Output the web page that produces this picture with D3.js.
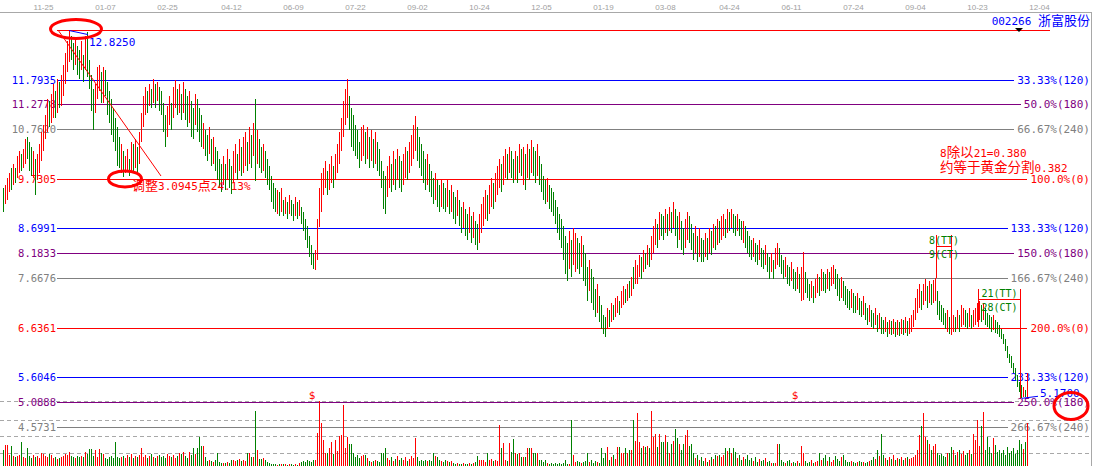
<!DOCTYPE html>
<html><head><meta charset="utf-8">
<script src="https://cdn.jsdelivr.net/npm/d3@7"></script>
<style>html,body{margin:0;padding:0;background:#fff;overflow:hidden}svg{display:block}</style>
</head><body>
<svg id="c" width="1094" height="466"></svg>
<script>
const dateLabels = ["11-25","01-07","02-25","04-12","06-09","07-22","09-02","10-24","12-05","01-19","03-08","04-24","06-11","07-24","09-04","10-23","12-04"];
const dateBars = [20,51,82,114,145,176,207,238,269,300,331,363,394,425,456,487,518];

const high = [
9.55,9.60,9.75,9.85,9.95,10.05,9.95,10.20,10.30,10.25,
10.35,10.55,10.60,10.50,10.40,10.30,10.15,10.25,10.45,10.70,
10.85,11.05,11.40,11.35,11.50,11.70,11.55,11.80,11.75,11.90,
12.10,12.35,12.60,12.83,12.70,12.55,12.65,12.50,12.40,12.60,
12.30,12.70,12.78,12.20,11.90,11.60,11.70,12.05,12.10,11.95,
12.05,12.00,11.75,11.55,11.40,11.20,11.00,10.80,10.60,10.45,
10.30,10.20,10.35,10.15,10.50,10.45,10.55,10.40,10.70,11.10,
11.45,11.65,11.55,11.70,11.60,11.80,11.70,11.75,11.65,11.55,
11.30,11.05,11.25,11.45,11.30,11.65,11.78,11.60,11.70,11.50,
11.75,11.60,11.45,11.55,11.35,11.20,11.50,11.40,11.20,11.05,
10.90,10.75,10.65,10.80,10.55,10.60,10.40,10.30,10.15,10.05,
10.20,10.05,10.35,10.15,10.00,10.30,10.45,10.25,10.55,10.40,
10.60,10.70,10.50,10.80,10.65,10.90,11.39,10.75,10.55,10.40,
10.45,10.30,10.15,10.00,9.80,9.65,9.55,9.50,9.45,9.55,
9.30,9.35,9.25,9.40,9.30,9.20,9.35,9.25,9.30,9.15,
9.05,8.90,8.75,8.55,8.35,8.20,8.25,8.90,9.55,9.85,
9.95,10.10,9.90,10.05,10.20,10.00,10.25,10.45,10.70,11.00,
11.35,11.60,11.80,11.45,11.20,11.05,10.85,10.75,10.50,10.80,
10.85,10.70,10.80,10.60,10.75,10.55,10.70,10.50,10.35,10.10,
9.90,9.80,10.00,10.20,10.05,10.30,10.15,10.35,10.20,10.10,
10.25,10.40,10.30,10.50,10.65,10.85,11.03,10.80,10.60,10.45,
10.30,10.15,10.25,10.05,9.90,9.75,9.85,9.70,9.60,9.70,
9.65,9.55,9.70,9.50,9.60,9.45,9.35,9.50,9.30,9.15,
9.25,9.10,9.00,9.15,8.95,9.05,8.85,8.80,9.00,9.20,
9.35,9.50,9.40,9.60,9.75,9.65,9.85,10.00,10.15,10.05,
10.20,10.35,10.25,10.40,10.30,10.15,10.30,10.20,10.45,10.35,
10.40,10.25,10.45,10.35,10.53,10.40,10.30,10.45,10.20,10.05,
9.80,9.70,9.75,9.60,9.55,9.45,9.30,9.15,9.00,8.90,
8.75,8.55,8.40,8.65,8.45,8.70,8.60,8.50,8.40,8.55,
8.35,8.20,7.90,8.05,7.85,7.70,7.45,7.55,7.30,7.10,
6.90,6.85,7.05,7.00,7.15,7.10,7.25,7.30,7.20,7.40,
7.50,7.45,7.55,7.60,7.70,7.90,8.05,7.95,8.15,8.10,
8.25,8.20,8.35,8.30,8.55,8.75,8.90,8.80,9.05,9.00,
8.95,9.10,9.00,9.15,9.05,9.24,9.10,8.95,9.05,8.85,
8.70,8.90,9.05,8.95,8.80,8.60,8.75,8.55,8.70,8.50,
8.45,8.60,8.50,8.70,8.65,8.80,8.75,8.90,8.85,8.95,
9.00,8.90,9.10,9.05,9.10,9.00,8.95,9.00,8.90,8.85,
8.85,8.75,8.65,8.55,8.45,8.50,8.40,8.35,8.45,8.30,
8.25,8.35,8.20,8.10,8.20,8.05,8.30,8.40,8.30,8.15,
8.05,8.10,7.95,7.90,8.00,7.85,7.80,7.90,7.75,7.90,
8.22,7.80,7.65,7.55,7.60,7.50,7.65,7.75,7.70,7.85,
7.80,7.75,7.85,7.80,7.90,7.95,7.85,7.75,7.65,7.70,
7.60,7.50,7.45,7.40,7.45,7.35,7.30,7.35,7.25,7.20,
7.30,7.15,7.05,7.10,7.00,6.95,7.05,6.90,6.95,6.85,
6.80,6.85,6.75,6.80,6.78,6.82,6.75,6.80,6.76,6.82,
6.80,6.85,6.78,6.84,6.90,7.00,7.25,7.45,7.55,7.40,
7.55,7.65,7.50,7.60,7.55,7.62,7.68,7.40,7.20,7.10,
7.05,6.95,7.00,6.85,6.80,6.90,6.85,7.00,6.90,7.10,
7.05,7.00,6.95,7.05,6.90,7.00,7.05,7.15,7.20,7.10,
7.15,7.05,6.95,6.90,6.85,6.90,6.80,6.75,6.70,6.60,
6.50,6.40,6.25,6.10,6.05,5.90,5.80,5.65,5.50,5.45,5.40,5.35,5.69];

const low = [
9.05,9.20,9.30,9.45,9.50,9.60,9.65,9.75,9.85,9.90,
9.95,10.05,10.15,9.90,9.80,9.75,9.40,9.70,9.85,10.10,
10.30,10.55,10.70,10.80,10.90,11.00,11.00,11.10,11.20,11.25,
11.45,11.70,11.95,12.15,12.20,12.00,12.10,11.90,11.80,12.00,
11.75,12.00,11.85,11.60,11.15,10.75,11.10,11.40,11.55,11.30,
11.30,11.45,11.05,10.90,10.65,10.50,10.30,10.00,9.95,9.85,
9.76,9.85,9.90,9.80,9.90,9.85,9.95,9.85,10.05,10.50,
10.80,11.05,11.10,11.25,11.20,11.30,11.20,11.35,11.15,11.05,
10.70,10.40,10.60,10.85,10.75,11.00,11.20,11.05,11.10,10.95,
11.10,10.95,10.80,10.90,10.60,10.55,10.85,10.70,10.50,10.40,
10.35,10.20,10.10,10.25,10.00,10.05,9.90,9.70,9.55,9.45,
9.60,9.50,9.70,9.55,9.41,9.65,9.85,9.70,9.90,9.80,
9.85,10.00,9.90,10.05,9.95,10.20,9.68,10.05,9.95,9.85,
9.90,9.75,9.60,9.50,9.25,9.10,9.05,9.00,8.95,9.05,
8.95,9.00,8.90,9.00,8.95,8.85,8.95,8.90,8.95,8.80,
8.65,8.45,8.30,8.10,7.95,7.86,7.84,8.05,8.72,9.05,
9.40,9.55,9.40,9.50,9.65,9.55,9.70,9.85,10.05,10.30,
10.60,10.85,11.00,10.75,10.40,10.30,10.20,10.15,9.95,10.10,
10.20,10.05,10.15,9.95,10.10,9.95,10.05,9.90,9.80,9.55,
9.10,9.00,9.35,9.55,9.45,9.60,9.50,9.70,9.55,9.45,
9.60,9.75,9.70,9.85,10.00,10.15,10.30,10.10,9.95,9.80,
9.65,9.50,9.60,9.45,9.35,9.20,9.30,9.15,9.05,9.15,
9.10,9.05,9.15,9.00,9.05,8.90,8.80,8.95,8.75,8.60,
8.70,8.55,8.45,8.60,8.40,8.50,8.35,8.26,8.40,8.60,
8.75,8.90,8.85,9.00,9.15,9.10,9.25,9.40,9.55,9.45,
9.60,9.75,9.70,9.85,9.75,9.65,9.70,9.65,9.85,9.80,
9.60,9.50,9.75,9.70,9.85,9.80,9.65,9.80,9.60,9.45,
9.30,9.20,9.25,9.10,9.05,8.95,8.80,8.60,8.45,8.30,
8.05,7.75,7.60,7.85,7.70,7.95,7.80,7.85,7.75,7.90,
7.60,7.50,7.20,7.40,7.15,7.00,6.85,6.95,6.75,6.60,
6.50,6.45,6.60,6.65,6.75,6.80,6.85,6.95,6.90,7.05,
7.10,7.15,7.20,7.25,7.30,7.45,7.55,7.55,7.70,7.65,
7.80,7.85,7.95,7.90,8.05,8.20,8.35,8.30,8.45,8.55,
8.45,8.60,8.55,8.65,8.60,8.70,8.55,8.30,8.45,8.25,
8.15,8.30,8.45,8.40,8.25,8.05,8.20,8.00,8.10,8.00,
8.00,8.10,8.05,8.20,8.15,8.30,8.25,8.35,8.40,8.45,
8.55,8.50,8.60,8.65,8.70,8.60,8.55,8.65,8.55,8.45,
8.40,8.30,8.20,8.10,8.05,8.10,8.00,7.95,8.05,7.90,
7.85,7.95,7.80,7.65,7.80,7.65,7.85,7.95,7.90,7.75,
7.65,7.70,7.55,7.50,7.60,7.45,7.40,7.45,7.35,7.20,
7.22,7.35,7.25,7.20,7.25,7.15,7.25,7.35,7.30,7.40,
7.40,7.35,7.45,7.40,7.50,7.55,7.45,7.30,7.20,7.25,
7.20,7.10,7.05,7.00,7.05,6.95,6.95,7.00,6.90,6.85,
6.90,6.80,6.70,6.75,6.65,6.60,6.70,6.55,6.60,6.50,
6.50,6.55,6.45,6.50,6.48,6.50,6.45,6.48,6.46,6.50,
6.48,6.52,6.47,6.50,6.55,6.65,6.80,6.95,7.05,7.00,
7.10,7.20,7.05,7.15,7.10,7.15,7.20,6.90,6.80,6.75,
6.70,6.60,6.55,6.50,6.48,6.55,6.55,6.60,6.55,6.65,
6.70,6.65,6.60,6.65,6.60,6.65,6.70,6.75,6.80,6.75,
6.80,6.70,6.65,6.60,6.55,6.58,6.52,6.50,6.45,6.40,
6.30,6.15,6.00,5.90,5.80,5.70,5.55,5.40,5.30,5.17,5.20,5.20,5.17];

const rise = [
0,1,1,1,0,1,0,1,1,0, 1,1,0,0,0,1,0,1,1,1, 1,1,1,0,1,1,0,1,0,1, 1,1,1,1,0,0,1,0,0,1,
0,1,0,0,0,0,1,1,1,0, 1,0,0,0,0,0,0,0,0,1, 0,1,1,0,1,0,1,0,1,1, 1,1,0,1,0,1,0,1,0,0,
0,0,1,1,0,1,1,0,1,0, 1,0,0,1,0,0,1,0,0,0, 1,0,0,1,0,1,0,0,0,0, 1,0,1,0,0,1,1,0,1,0,
1,1,0,1,0,1,0,1,0,0, 1,0,0,0,0,0,0,1,0,1, 0,1,0,1,0,0,1,0,1,0, 0,0,0,0,0,0,1,1,1,1,
1,1,0,1,1,0,1,1,1,1, 1,1,1,0,0,0,0,0,0,1, 1,0,1,0,1,0,1,0,0,0, 0,0,1,1,0,1,0,1,0,0,
1,1,0,1,1,1,1,0,0,0, 0,0,1,0,0,0,1,0,0,1, 0,0,1,0,1,0,0,1,0,0, 1,0,0,1,0,1,0,0,1,1,
1,1,0,1,1,0,1,1,1,0, 1,1,0,1,0,0,1,0,1,0, 1,0,1,0,1,0,0,1,0,0, 0,0,1,0,0,0,0,0,0,0,
0,0,0,1,0,1,1,0,0,1, 0,0,0,1,0,0,0,1,0,0, 0,0,1,0,1,0,1,1,0,1, 1,0,1,0,1,0,1,1,1,0,
1,0,1,0,1,1,1,0,1,0, 0,1,0,1,0,1,0,0,1,0, 0,1,1,0,0,0,1,0,1,0, 0,1,0,1,0,1,0,1,0,1,
1,0,1,0,1,0,0,1,0,0, 1,0,0,0,0,1,0,0,1,0, 0,1,0,0,1,0,1,1,0,0, 0,1,0,0,1,0,0,1,0,1,
1,0,0,0,1,0,1,1,0,1, 0,0,1,0,1,1,0,0,0,1, 0,0,0,0,1,0,0,1,0,0, 1,0,0,1,0,0,1,0,1,0,
0,1,0,1,0,1,0,1,0,1, 0,1,0,1,1,1,1,1,1,0, 1,1,0,1,0,1,1,0,0,0, 0,0,1,0,0,1,0,1,0,1,
1,0,0,1,0,1,1,1,1,0, 1,0,0,0,0,1,0,0,0,0, 0,0,0,0,0,0,0,0,0,0,1,0,1];

const volume = [
16,21,21,11,20,10,9,10,11,24, 9,8,18,10,8,11,9,10,8,13, 12,10,9,12,11,8,9,7,8,9, 10,12,11,14,10,9,8,10,9,10,
9,14,12,17,17,10,16,9,17,13, 12,8,7,9,10,8,24,9,8,9, 10,8,11,9,12,8,10,9,11,18, 9,11,8,10,12,9,8,10,11,9,
10,8,12,10,9,11,8,10,13,12, 14,10,8,14,11,18,12,18,29,20, 20,9,5,6,5,4,6,13,4,3, 3,3,4,3,6,6,5,6,7,5,
6,5,13,13,9,9,55,16,7,7, 8,6,4,3,2,2,2,1,2,2, 2,2,1,2,2,1,2,1,3,4, 5,4,6,5,4,6,6,33,65,43,
26,13,13,18,24,12,26,15,30,31, 61,18,29,22,22,13,9,11,8,10, 11,11,8,5,4,5,6,5,4,13, 13,18,8,6,9,5,7,10,6,8,
6,9,5,7,10,8,28,9,5,6, 5,6,5,6,5,13,10,9,6,5, 4,6,5,4,5,3,2,3,2,2, 3,2,2,3,2,3,4,10,6,6,
6,4,13,6,7,5,6,5,41,18, 23,6,5,23,14,27,13,12,13,9, 9,9,18,18,18,13,13,13,6,6, 4,6,3,2,3,2,3,2,3,2,
3,6,2,2,46,11,4,5,4,3, 4,5,13,4,6,3,5,4,3,18, 8,13,19,6,9,11,7,19,19,13, 13,18,13,16,16,46,25,53,24,18,
20,19,20,18,55,29,32,19,32,24, 24,31,24,13,22,25,37,28,22,16, 22,31,36,20,22,13,8,11,6,9, 5,8,4,6,9,7,11,10,11,9,
11,18,15,18,13,18,14,8,11,6, 9,7,11,6,8,5,9,4,7,5, 6,8,4,5,3,3,3,22,22,6, 4,3,5,6,3,4,3,5,3,20,
13,5,3,4,6,3,4,5,13,6, 8,11,5,9,4,6,10,7,5,9, 11,6,4,4,5,4,3,4,5,4, 4,3,4,5,6,9,7,16,10,32,
11,8,6,9,7,11,6,8,7,9, 6,8,9,7,8,9,11,16,31,40, 53,29,26,22,16,20,22,13,11,12, 10,9,13,13,19,16,11,14,16,12,
15,11,13,16,12,32,26,46,20,40, 54,16,29,19,13,28,21,14,16,13, 16,11,19,13,15,18,12,16,26,22,17,24,43];

const levelPrices = [12.8250,11.7935,11.2778,10.7620,9.7305,8.6991,8.1833,7.6676,6.6361,5.6046,5.0888,4.5731];
const levelTags = ["","33.33%(120)","50.0%(180)","66.67%(240)","100.0%(0)","133.33%(120)","150.0%(180)","166.67%(240)","200.0%(0)","233.33%(120)","250.0%(180)","266.67%(240)"];
const volumeTicks = [13,30,46,65];

const RED="#ff0000", GREEN="#008000", BLUE="#0000ff", PURPLE="#800080", GRAY="#808080";
const MONO='"DejaVu Sans Mono", "Liberation Mono", monospace';
const CJK='"Noto Sans CJK SC", sans-serif';

const svg = d3.select("#c");
const x = d3.scaleLinear().domain([0, 544]).range([3, 1091]);
const y = d3.scaleLinear().domain([4.5731, 12.825]).range([427, 30]);
const yv = d3.scaleLinear().domain([0, 65]).range([466, 401]);
const row = v => Math.round(v) + 0.5;
const col = i => Math.round(x(i)) + 0.5;
const barColor = i => rise[i] ? RED : GREEN;

function tagColor(t){
  if (t.endsWith("(120)")) return BLUE;
  if (t.endsWith("(180)")) return PURPLE;
  if (t.endsWith("(240)")) return GRAY;
  return RED;
}
function mixed(g, str, px, py, color, anchor, cjkSize){
  const t = g.append("text").attr("x", px).attr("y", py).attr("fill", color)
    .attr("text-anchor", anchor || "start");
  str.split(/([\u2E80-\u9FFF\uFF00-\uFFEF]+)/).filter(s => s.length).forEach(s => {
    const isC = /[\u2E80-\u9FFF\uFF00-\uFFEF]/.test(s);
    t.append("tspan").text(s).attr("font-family", isC ? CJK : MONO).attr("font-size", isC ? (cjkSize || 13) : 11);
  });
  return t;
}

// top date axis
const axis = d3.axisTop(x).tickValues(dateBars).tickFormat((d,i) => dateLabels[i]).tickSize(0).tickPadding(2.5);
const ag = svg.append("g").attr("transform","translate(0,12.5)").call(axis);
ag.select(".domain").remove();
ag.selectAll("text").attr("fill","#a0a0a0").attr("font-family",'"Liberation Sans", Arial, sans-serif').attr("font-size",8);
svg.append("line").attr("x1",0).attr("x2",1091).attr("y1",12.5).attr("y2",12.5).attr("stroke","#a8a8a8").attr("shape-rendering","crispEdges");
svg.append("line").attr("x1",1091.5).attr("x2",1091.5).attr("y1",12).attr("y2",466).attr("stroke","#a8a8a8").attr("shape-rendering","crispEdges");

// volume grid
svg.append("g").attr("shape-rendering","crispEdges").selectAll("line").data(volumeTicks).join("line")
  .attr("x1",0).attr("x2",1090).attr("y1",d=>row(yv(d))).attr("y2",d=>row(yv(d)))
  .attr("stroke","#a8a8a8").attr("stroke-dasharray","4,3");

// level lines & labels
const lg = svg.append("g");
levelPrices.forEach((p,i) => {
  const tag = levelTags[i], c = tagColor(tag), yy = row(y(p));
  let xEnd = 1050;
  if (i > 0) {
    lg.append("text").attr("x",56).attr("y",yy+3.5).attr("text-anchor","end")
      .attr("fill",c).attr("font-family",MONO).attr("font-size",10.5).text(p.toFixed(4));
    const t = lg.append("text").attr("x",1090).attr("y",yy+3.5).attr("text-anchor","end")
      .attr("fill",c).attr("font-family",MONO).attr("font-size",11).text(tag);
    xEnd = 1090 - t.node().getComputedTextLength() - 3;
  }
  lg.append("line").attr("x1",57).attr("x2",xEnd).attr("y1",yy).attr("y2",yy)
    .attr("stroke",c).attr("shape-rendering","crispEdges");
});

// volume bars (1px vertical strokes)
svg.append("g").attr("shape-rendering","crispEdges").selectAll("line").data(volume).join("line")
  .attr("x1",(d,i)=>col(i)).attr("x2",(d,i)=>col(i))
  .attr("y1",d=>Math.round(yv(d))).attr("y2",466)
  .style("stroke",(d,i)=>barColor(i)).attr("stroke-width",1);

// candles (1px vertical strokes from high to low)
svg.append("g").attr("shape-rendering","crispEdges").selectAll("line").data(high).join("line")
  .attr("x1",(d,i)=>col(i)).attr("x2",(d,i)=>col(i))
  .attr("y1",d=>Math.round(y(d)))
  .attr("y2",(d,i)=>Math.max(Math.round(y(d))+1, Math.round(y(low[i]))))
  .style("stroke",(d,i)=>barColor(i)).attr("stroke-width",1);

// annotations
const an = svg.append("g");
const topPrice = 12.825, lowPrice = 5.17;
an.append("line").attr("x1",x(27.5)).attr("y1",y(topPrice)).attr("x2",x(79)).attr("y2",y(9.79))
  .attr("stroke",RED).attr("stroke-width",1);
an.append("line").attr("x1",x(33)).attr("y1",y(topPrice)+0.5).attr("x2",x(42.5)).attr("y2",y(12.73))
  .attr("stroke",BLUE).attr("stroke-width",1);
an.append("text").attr("x",x(43)).attr("y",y(topPrice)+15.5).attr("fill",BLUE)
  .attr("font-family",MONO).attr("font-size",11).text(topPrice.toFixed(4));
mixed(an, "调整3.0945点24.13%", x(64.5), y(9.7305)+11.5, RED);
mixed(an, "8除以21=0.380", 940, 157, RED, "start", 13.5);
mixed(an, "约等于黄金分割0.382", 940, 172, RED, "start", 13.5);

// cycle markers
function cycle(b1, b2, topY, p1, p2, hY, t1, t2){
  const x1 = col(b1), x2 = col(b2);
  const cg = an.append("g").attr("shape-rendering","crispEdges");
  cg.append("line").attr("x1",x1).attr("x2",x1).attr("y1",topY).attr("y2",y(p1)).attr("stroke",RED);
  cg.append("line").attr("x1",x2).attr("x2",x2).attr("y1",topY).attr("y2",y(p2)).attr("stroke",RED);
  cg.append("line").attr("x1",x1).attr("x2",x2).attr("y1",hY).attr("y2",hY).attr("stroke",RED);
  const cx = (x1+x2)/2;
  an.append("text").attr("x",cx).attr("y",hY-3).attr("text-anchor","middle").attr("fill",GREEN)
    .attr("font-family",MONO).attr("font-size",10).text(t1);
  an.append("text").attr("x",cx).attr("y",hY+11).attr("text-anchor","middle").attr("fill",GREEN)
    .attr("font-family",MONO).attr("font-size",10).text(t2);
}
cycle(466.5, 474, 235, 7.68, 6.48, 246.5, "8(TT)", "9(CT)");
cycle(487.5, 508.5, 289, 6.66, lowPrice, 299.5, "21(TT)", "28(CT)");

// low label
an.append("line").attr("x1",x(509.5)).attr("y1",y(lowPrice)).attr("x2",x(517.5)).attr("y2",y(lowPrice)-2)
  .attr("stroke",BLUE);
an.append("text").attr("x",x(518.5)).attr("y",y(lowPrice)-1.5).attr("fill",BLUE)
  .attr("font-family",MONO).attr("font-size",11).text(lowPrice.toFixed(4));

// $ markers
[154.5, 396].forEach(b => an.append("text").attr("x",x(b)).attr("y",399).attr("text-anchor","middle")
  .attr("fill",RED).attr("font-family",MONO).attr("font-size",11).text("$"));

// ellipses
an.append("ellipse").attr("cx",x(36.5)).attr("cy",y(topPrice)-1).attr("rx",25.5).attr("ry",9.5)
  .attr("fill","none").attr("stroke",RED).attr("stroke-width",3);
an.append("ellipse").attr("cx",x(61)).attr("cy",y(9.7305)).attr("rx",16.5).attr("ry",8)
  .attr("fill","none").attr("stroke",RED).attr("stroke-width",3);
an.append("ellipse").attr("cx",1071).attr("cy",406).attr("rx",17).attr("ry",13.5)
  .attr("fill","none").attr("stroke",RED).attr("stroke-width",3);

// title & marker
mixed(an, "002266 浙富股份", 1090, 25, BLUE, "end");
const tx = x(508);
an.append("path").attr("d",`M${tx-4},28 L${tx+4},28 L${tx},32 Z`).attr("fill","#000");
</script>
</body></html>
